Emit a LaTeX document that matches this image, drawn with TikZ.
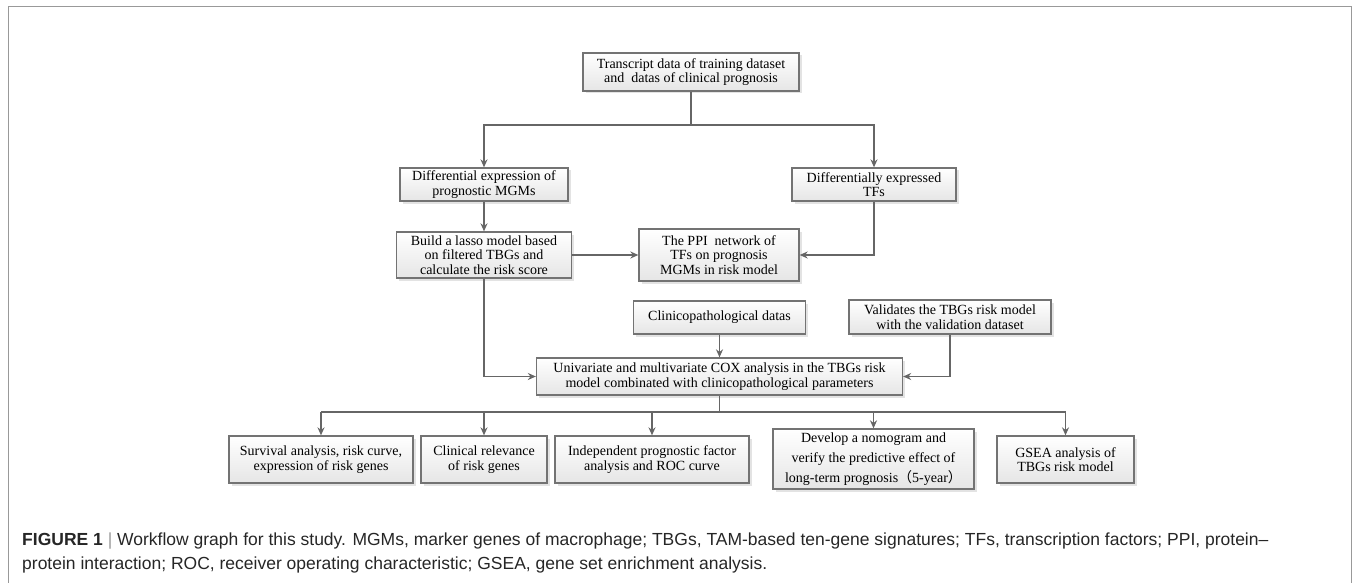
\documentclass[tikz,border=0pt]{standalone}
\usepackage{fontspec}
\setmainfont{Liberation Serif}
\newfontfamily\capfont{Liberation Sans}
\newfontfamily\cjkfont{Noto Sans CJK SC}
\usetikzlibrary{arrows.meta,shadows}
\begin{document}
\begin{tikzpicture}[x=1pt,y=-1pt,
  box/.style={draw=black!55, line width=1.3pt, top color=white, bottom color=black!10,
    drop shadow={shadow xshift=2.5pt, shadow yshift=-2.5pt, fill=black!22},
    inner sep=0pt, align=center, font=\fontsize{14}{14.6}\selectfont, text=black},
  line/.style={draw=black!60, line width=1.4pt},
  arr/.style={line, -{Stealth[length=8pt,width=7pt]}},
  captext/.style={anchor=base west, inner sep=0pt, font=\capfont\fontsize{17.5}{20}\selectfont, text=black!85}]
\useasboundingbox (0,0) rectangle (1355,583);
\draw[black!40, line width=1pt] (8,583) -- (8,7) -- (1351,7) -- (1351,583);

\node[box, minimum width=216pt, minimum height=38pt] (top) at (691,72) {Transcript data of training dataset\\and~ datas of clinical prognosis};
\node[box, minimum width=168pt, minimum height=33pt] (dem) at (484,184.5) {Differential expression of\\prognostic MGMs};
\node[box, minimum width=164pt, minimum height=33pt] (tfs) at (874,184.5) {Differentially expressed\\TFs};
\node[box, minimum width=175pt, minimum height=46pt] (lasso) at (484,255) {Build a lasso model based\\on filtered TBGs and\\calculate the risk score};
\node[box, minimum width=160pt, minimum height=52pt] (ppi) at (719,255) {The PPI~ network of\\TFs on prognosis\\MGMs in risk model};
\node[box, minimum width=172pt, minimum height=33pt] (clin) at (719.5,317.5) {Clinicopathological datas};
\node[box, minimum width=202pt, minimum height=34pt] (valid) at (950,317) {Validates the TBGs risk model\\with the validation dataset};
\node[box, minimum width=366pt, minimum height=37pt] (uni) at (719.5,376.5) {Univariate and multivariate COX analysis in the TBGs risk\\model combinated with clinicopathological parameters};

\node[box, minimum width=184pt, minimum height=47pt] (b1) at (321,459.5) {Survival analysis, risk curve,\\expression of risk genes};
\node[box, minimum width=126pt, minimum height=47pt] (b2) at (484,459.5) {Clinical relevance\\of risk genes};
\node[box, minimum width=194pt, minimum height=47pt] (b3) at (652,459.5) {Independent prognostic factor\\analysis and ROC curve};
\node[box, minimum width=201pt, minimum height=60pt, font=\fontsize{14}{20}\selectfont] (b4) at (873.5,459) {Develop a nomogram and\\verify the predictive effect of\\long-term prognosis{\cjkfont（}5-year{\cjkfont）}};
\node[box, minimum width=137pt, minimum height=47pt] (b5) at (1065.5,459.5) {GSEA analysis of\\TBGs risk model};

\coordinate (split1) at (691,125);
\draw[line] (top.south) -- (split1);
\draw[arr] (split1) -| (dem.north);
\draw[arr] (split1) -| (tfs.north);
\draw[arr] (dem.south) -- (lasso.north);
\draw[arr] (lasso.east) -- (ppi.west);
\draw[arr] (tfs.south) |- (ppi.east);
\draw[arr] (lasso.south) |- (uni.west);
\draw[arr] (clin.south) -- (uni.north);
\draw[arr] (valid.south) |- (uni.east);

\coordinate (split2) at (719.5,412);
\draw[line] (uni.south) -- (split2);
\draw[line] (b1.north |- split2) -- (b5.north |- split2);
\foreach \b in {b1,b2,b3,b4,b5} \draw[arr] (\b.north |- split2) -- (\b.north);

\node[captext] (cap1) at (22,545) {\textbf{FIGURE 1}\ \textcolor{black!40}{|}\ Workflow graph for this study. MGMs, marker genes of macrophage; TBGs, TAM-based ten-gene signatures; TFs, transcription factors; PPI, protein–};
\node[captext] (cap2) at (22,569) {protein interaction; ROC, receiver operating characteristic; GSEA, gene set enrichment analysis.};
\end{tikzpicture}
\end{document}
